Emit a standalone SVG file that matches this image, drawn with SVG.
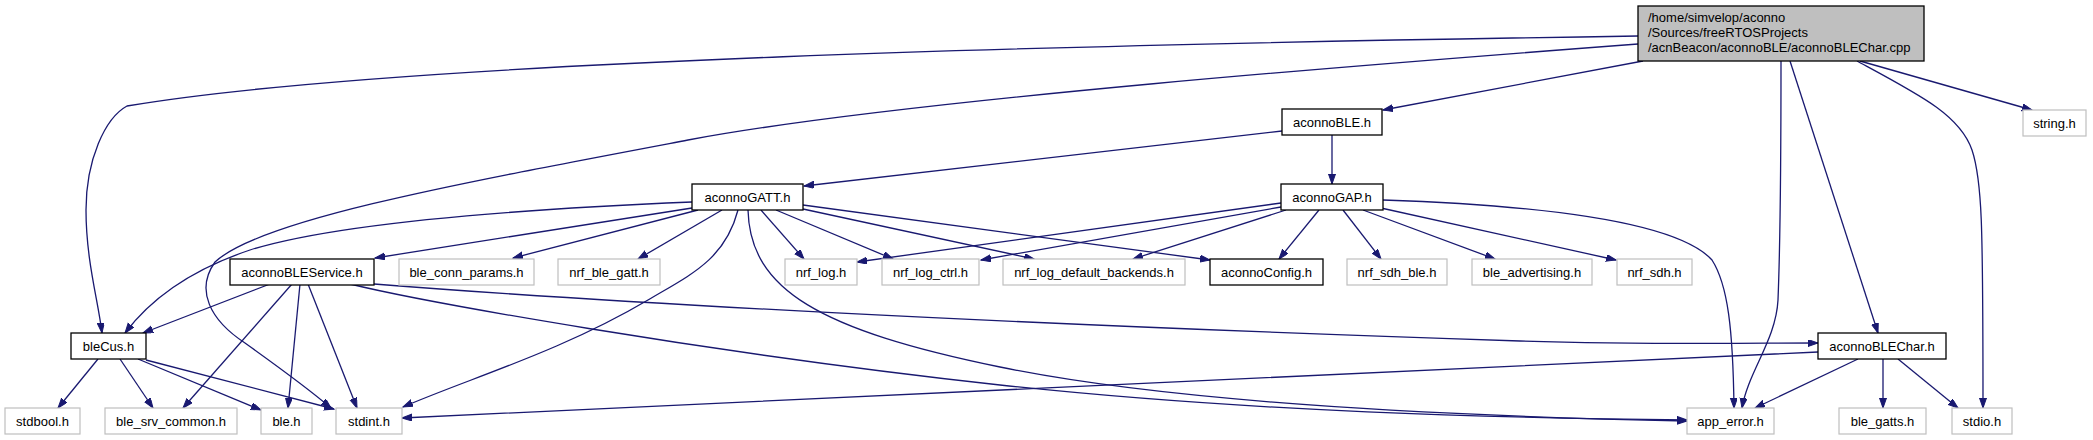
<svg xmlns="http://www.w3.org/2000/svg" width="2093" height="440" viewBox="0 0 2093 440">
<style>
.n rect{fill:#ffffff;stroke:#000000;stroke-width:1.3}
.n.u rect{stroke:#bfbfbf;stroke-width:1.2}
.n.m rect{fill:#bfbfbf}
text{font-family:"Liberation Sans",Arial,sans-serif;font-size:13px;fill:#000000}
.c{text-anchor:middle}
#edges path{fill:none;stroke:#191970;stroke-width:1.3;marker-end:url(#ah)}
</style>
<defs>
<marker id="ah" markerUnits="userSpaceOnUse" markerWidth="11" markerHeight="8" refX="10" refY="3.5" orient="auto">
<path d="M0,0 L10,3.5 L0,7 z" fill="#191970" stroke="#191970" stroke-width="1"/>
</marker>
</defs>
<rect width="2093" height="440" fill="#ffffff"/>
<g id="edges">
<path d="M1638,36 C1100,44 400,60 127,106 C105,118 86,160 86,210 C86,260 98,300 102,333"/>
<path d="M1638,44 C1400,62 900,100 688,140 C450,185 260,220 215,262 C195,290 210,320 245,343 C280,368 310,390 331,408"/>
<path d="M1643,61 L1383,110"/>
<path d="M1781,61 C1781,150 1780,250 1778,300 C1776,340 1748,372 1742,408"/>
<path d="M1790,61 L1878,333"/>
<path d="M1857,61 C1920,95 1960,115 1972,150 C1982,180 1983,220 1983,408"/>
<path d="M1860,61 L2032,110"/>
<path d="M1282,131 L804,186"/>
<path d="M1332,135 L1332,184"/>
<path d="M692,208 L375,258"/>
<path d="M698,210 L513,258"/>
<path d="M722,210 L638,259"/>
<path d="M761,210 L804,259"/>
<path d="M776,210 L893,259"/>
<path d="M803,209 L1034,259"/>
<path d="M803,205 L1210,260"/>
<path d="M692,202 C500,210 330,225 250,250 C190,270 150,300 125,333"/>
<path d="M738,210 C725,260 690,275 648,300 C560,352 470,378 403,407"/>
<path d="M748,210 C750,290 820,330 1000,367 C1150,398 1400,415 1687,421"/>
<path d="M1281,203 L857,262"/>
<path d="M1281,207 L981,260"/>
<path d="M1286,210 L1133,259"/>
<path d="M1319,210 L1279,259"/>
<path d="M1343,210 L1381,259"/>
<path d="M1363,210 L1495,259"/>
<path d="M1381,208 L1616,260"/>
<path d="M1383,200 C1560,206 1680,225 1712,260 C1728,285 1733,330 1734,408"/>
<path d="M270,284 L143,333"/>
<path d="M292,284 L183,408"/>
<path d="M300,284 L288,408"/>
<path d="M308,284 L357,408"/>
<path d="M350,284 C420,301 700,352 1000,385 C1250,412 1500,418 1687,420"/>
<path d="M374,284 C600,302 1000,324 1520,341 C1650,345 1750,343 1818,343"/>
<path d="M98,359 L58,408"/>
<path d="M120,359 L153,408"/>
<path d="M138,359 L261,410"/>
<path d="M146,360 L334,409"/>
<path d="M1818,352 C1500,366 800,400 402,418"/>
<path d="M1858,359 L1755,408"/>
<path d="M1883,359 L1883,408"/>
<path d="M1898,359 L1958,408"/>
</g>
<g id="main" class="n m"><rect x="1638" y="6" width="286" height="55"/>
<text x="1648" y="21.5">/home/simvelop/aconno</text>
<text x="1648" y="36.5">/Sources/freeRTOSProjects</text>
<text x="1648" y="51.5">/acnBeacon/aconnoBLE/aconnoBLEChar.cpp</text></g>
<g id="aconnoBLE" class="n"><rect x="1282" y="109" width="100" height="26"/><text class="c" x="1332" y="126.5">aconnoBLE.h</text></g>
<g id="string" class="n u"><rect x="2023" y="110" width="63" height="26"/><text class="c" x="2054.5" y="127.5">string.h</text></g>
<g id="aconnoGATT" class="n"><rect x="692" y="184" width="111" height="26"/><text class="c" x="747.5" y="201.5">aconnoGATT.h</text></g>
<g id="aconnoGAP" class="n"><rect x="1281" y="184" width="102" height="26"/><text class="c" x="1332" y="201.5">aconnoGAP.h</text></g>
<g id="aconnoBLEService" class="n"><rect x="230" y="259" width="144" height="26"/><text class="c" x="302" y="276.5">aconnoBLEService.h</text></g>
<g id="ble_conn_params" class="n u"><rect x="399" y="259" width="135" height="26"/><text class="c" x="466.5" y="276.5">ble_conn_params.h</text></g>
<g id="nrf_ble_gatt" class="n u"><rect x="558" y="259" width="102" height="26"/><text class="c" x="609" y="276.5">nrf_ble_gatt.h</text></g>
<g id="nrf_log" class="n u"><rect x="785" y="259" width="72" height="26"/><text class="c" x="821" y="276.5">nrf_log.h</text></g>
<g id="nrf_log_ctrl" class="n u"><rect x="882" y="259" width="97" height="26"/><text class="c" x="930.5" y="276.5">nrf_log_ctrl.h</text></g>
<g id="nrf_log_default_backends" class="n u"><rect x="1003" y="259" width="182" height="26"/><text class="c" x="1094" y="276.5">nrf_log_default_backends.h</text></g>
<g id="aconnoConfig" class="n"><rect x="1210" y="259" width="113" height="26"/><text class="c" x="1266.5" y="276.5">aconnoConfig.h</text></g>
<g id="nrf_sdh_ble" class="n u"><rect x="1347" y="259" width="100" height="26"/><text class="c" x="1397" y="276.5">nrf_sdh_ble.h</text></g>
<g id="ble_advertising" class="n u"><rect x="1472" y="259" width="120" height="26"/><text class="c" x="1532" y="276.5">ble_advertising.h</text></g>
<g id="nrf_sdh" class="n u"><rect x="1617" y="259" width="75" height="26"/><text class="c" x="1654.5" y="276.5">nrf_sdh.h</text></g>
<g id="bleCus" class="n"><rect x="71" y="333" width="75" height="26"/><text class="c" x="108.5" y="350.5">bleCus.h</text></g>
<g id="aconnoBLEChar" class="n"><rect x="1818" y="333" width="128" height="26"/><text class="c" x="1882" y="350.5">aconnoBLEChar.h</text></g>
<g id="stdbool" class="n u"><rect x="5" y="408" width="75" height="26"/><text class="c" x="42.5" y="425.5">stdbool.h</text></g>
<g id="ble_srv_common" class="n u"><rect x="105" y="408" width="132" height="26"/><text class="c" x="171" y="425.5">ble_srv_common.h</text></g>
<g id="ble" class="n u"><rect x="261" y="408" width="51" height="26"/><text class="c" x="286.5" y="425.5">ble.h</text></g>
<g id="stdint" class="n u"><rect x="336" y="408" width="66" height="26"/><text class="c" x="369" y="425.5">stdint.h</text></g>
<g id="app_error" class="n u"><rect x="1687" y="408" width="87" height="26"/><text class="c" x="1730.5" y="425.5">app_error.h</text></g>
<g id="ble_gatts" class="n u"><rect x="1839" y="408" width="87" height="26"/><text class="c" x="1882.5" y="425.5">ble_gatts.h</text></g>
<g id="stdio" class="n u"><rect x="1952" y="408" width="60" height="26"/><text class="c" x="1982" y="425.5">stdio.h</text></g>
</svg>
